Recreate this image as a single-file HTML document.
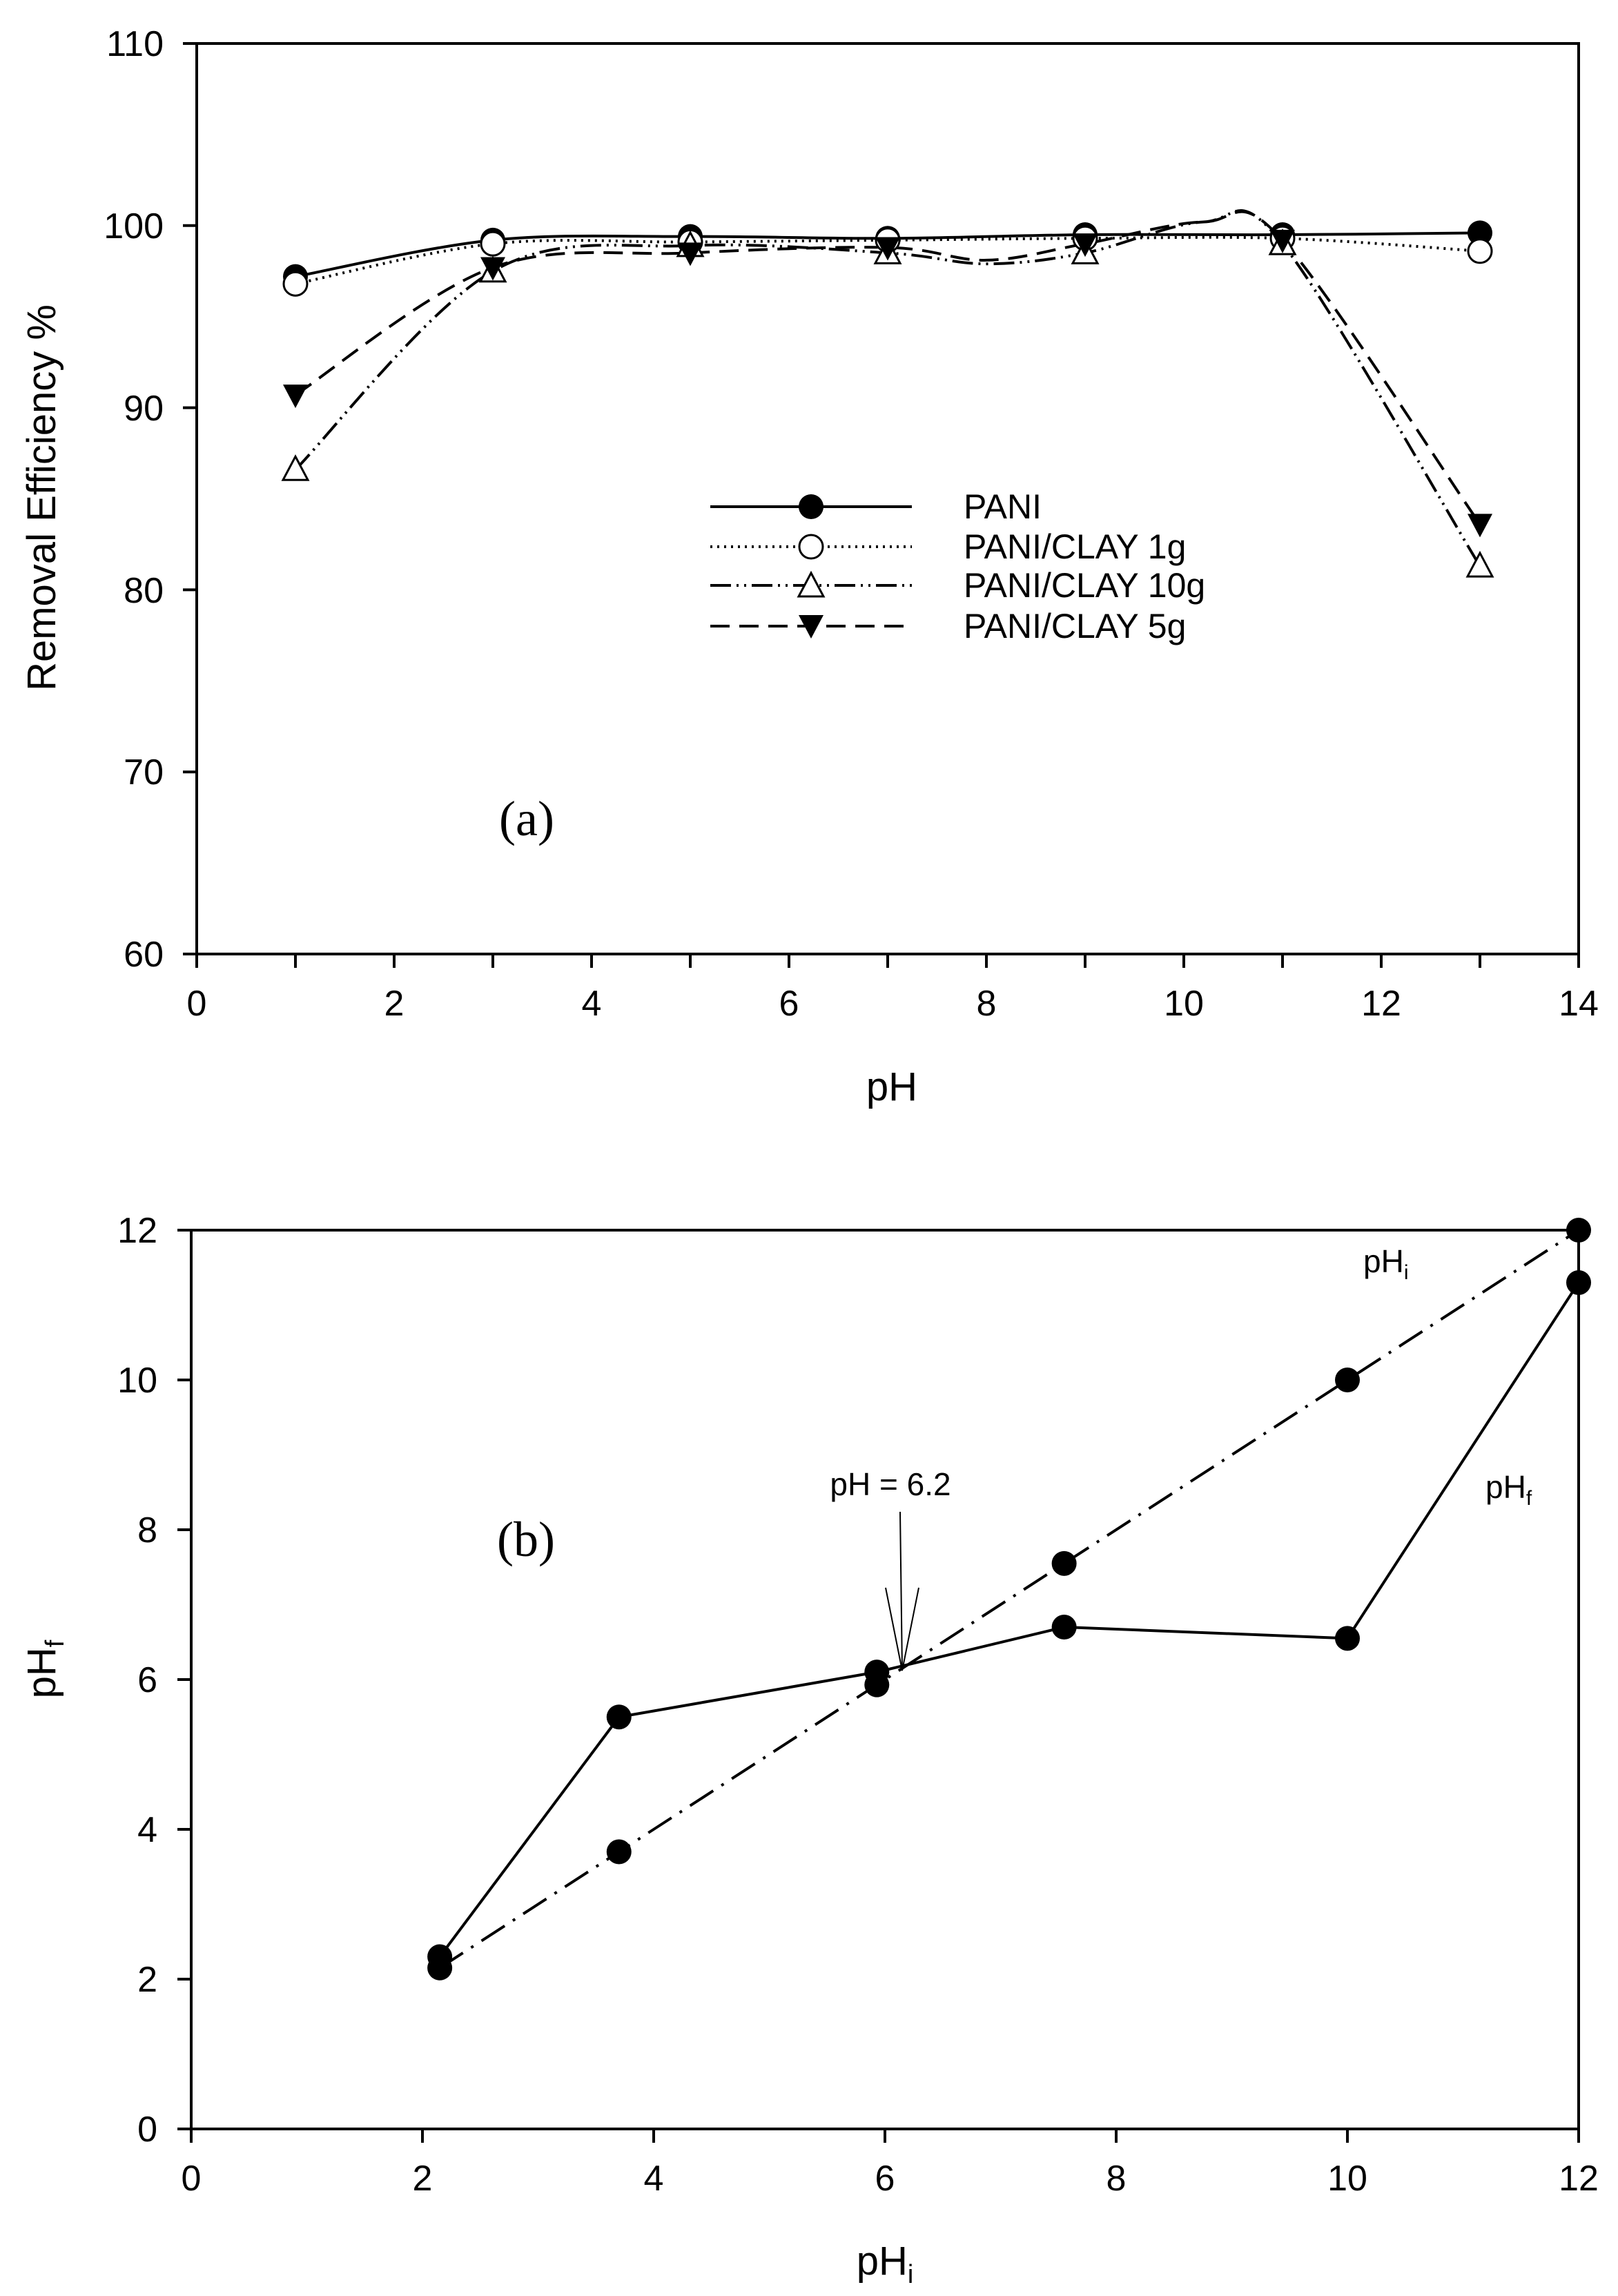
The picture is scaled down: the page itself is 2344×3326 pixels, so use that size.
<!DOCTYPE html>
<html><head><meta charset="utf-8"><style>
html,body{margin:0;padding:0;background:#fff}
svg{display:block}
text{font-family:"Liberation Sans",Arial,sans-serif;fill:#000}
.tk{font-size:52px}
</style></head><body>
<svg id="s" width="2344" height="3326" viewBox="0 0 2344 3326" xmlns="http://www.w3.org/2000/svg">
<rect width="2344" height="3326" fill="#fff"/>
<g stroke="#000" stroke-width="4" fill="none">
<rect x="285" y="63" width="2002" height="1319"/>
<path d="M265 63H285M265 326.8H285M265 590.6H285M265 854.4H285M265 1118.2H285M265 1382H285"/>
<path d="M285 1382V1402M428 1382V1402M571 1382V1402M714 1382V1402M857 1382V1402M1000 1382V1402M1143 1382V1402M1286 1382V1402M1429 1382V1402M1572 1382V1402M1715 1382V1402M1858 1382V1402M2001 1382V1402M2144 1382V1402M2287 1382V1402"/>
</g>
<g class="tk" text-anchor="end">
<text x="237" y="81">110</text><text x="237" y="345">100</text><text x="237" y="609">90</text>
<text x="237" y="873">80</text><text x="237" y="1136">70</text><text x="237" y="1400">60</text>
</g>
<g class="tk" text-anchor="middle">
<text x="285" y="1471">0</text><text x="571" y="1471">2</text><text x="857" y="1471">4</text><text x="1143" y="1471">6</text>
<text x="1429" y="1471">8</text><text x="1715" y="1471">10</text><text x="2001" y="1471">12</text><text x="2287" y="1471">14</text>
</g>
<text x="1292" y="1594" font-size="58" text-anchor="middle">pH</text>
<text transform="translate(80,721) rotate(-90)" font-size="58" text-anchor="middle">Removal Efficiency %</text>
<text x="763" y="1210" font-size="72" text-anchor="middle" style="font-family:'Liberation Serif',serif">(a)</text>
<g id="top"></g>
<g stroke="#000" stroke-width="4" fill="none">
<path d="M1029 734H1321"/>
<path d="M1029 792H1321" stroke-dasharray="3,7"/>
<path d="M1029 848H1321" stroke-dasharray="30,8,3,8,3,8"/>
<path d="M1029 907H1321" stroke-dasharray="28,14"/>
</g>
<circle cx="1175" cy="734" r="18" fill="#000"/>
<circle cx="1175" cy="792" r="17" fill="#fff" stroke="#000" stroke-width="3"/>
<path d="M1175 830L1193 864H1157Z" fill="#fff" stroke="#000" stroke-width="3"/>
<path d="M1175 925L1193 891H1157Z" fill="#000"/>
<g font-size="50">
<text x="1396" y="751">PANI</text>
<text x="1396" y="809">PANI/CLAY 1g</text>
<text x="1396" y="865">PANI/CLAY 10g</text>
<text x="1396" y="924">PANI/CLAY 5g</text>
</g>

<g stroke="#000" stroke-width="4" fill="none">
<rect x="277" y="1782" width="2010" height="1302"/>
<path d="M257 1782H277M257 1999H277M257 2216H277M257 2433H277M257 2650H277M257 2867H277M257 3084H277"/>
<path d="M277 3084V3104M612 3084V3104M947 3084V3104M1282 3084V3104M1617 3084V3104M1952 3084V3104M2287 3084V3104"/>
</g>
<g class="tk" text-anchor="end">
<text x="228" y="1800">12</text><text x="228" y="2017">10</text><text x="228" y="2234">8</text>
<text x="228" y="2451">6</text><text x="228" y="2668">4</text><text x="228" y="2885">2</text><text x="228" y="3102">0</text>
</g>
<g class="tk" text-anchor="middle">
<text x="277" y="3173">0</text><text x="612" y="3173">2</text><text x="947" y="3173">4</text><text x="1282" y="3173">6</text>
<text x="1617" y="3173">8</text><text x="1952" y="3173">10</text><text x="2287" y="3173">12</text>
</g>
<text x="1282" y="3295" font-size="58" text-anchor="middle">pH<tspan font-size="38" dy="12">i</tspan></text>
<text transform="translate(80,2418) rotate(-90)" font-size="58" text-anchor="middle">pH<tspan font-size="38" dy="12">f</tspan></text>
<text x="762" y="2254" font-size="72" text-anchor="middle" style="font-family:'Liberation Serif',serif">(b)</text>
<text x="1290" y="2166" font-size="46" text-anchor="middle">pH = 6.2</text>
<text x="1975" y="1843" font-size="46">pH<tspan font-size="30" dy="10">i</tspan></text>
<text x="2152" y="2170" font-size="46">pH<tspan font-size="30" dy="10">f</tspan></text>
<g stroke="#000" stroke-width="2" fill="none">
<path d="M1304 2190L1307 2420M1283 2300L1307 2420L1331 2300"/>
</g>
<g id="bot"></g>
</svg>
<script>
(function(){
var NS="http://www.w3.org/2000/svg";
function el(p,t,a){var e=document.createElementNS(NS,t);for(var k in a)e.setAttribute(k,a[k]);p.appendChild(e);return e;}
function spline(pts){var d="M"+pts[0][0]+" "+pts[0][1];
 for(var i=0;i<pts.length-1;i++){var p0=pts[i-1]||pts[i],p1=pts[i],p2=pts[i+1],p3=pts[i+2]||p2;
  var c1=[p1[0]+(p2[0]-p0[0])/6,p1[1]+(p2[1]-p0[1])/6],c2=[p2[0]-(p3[0]-p1[0])/6,p2[1]-(p3[1]-p1[1])/6];
  d+=" C"+c1.join(" ")+" "+c2.join(" ")+" "+p2.join(" ");}return d;}
var top=document.getElementById("top");
function X(v){return 285+143*v;} function Y(v){return 1382-(v-60)*26.38;}
var xs=[1,3,5,7,9,11,13];
var S=[
 {d:[97.2,99.2,99.4,99.3,99.5,99.5,99.6],da:"",m:"fc"},
 {d:[96.8,99.0,99.1,99.2,99.3,99.3,98.6],da:"3,7",m:"oc"},
 {d:[86.6,97.5,98.9,98.5,98.5,99.0,81.3],da:"30,8,3,8,3,8",m:"ot",ex:[[8,97.9],[10.2,100.2]]},
 {d:[90.7,97.7,98.5,98.8,99.0,99.2,83.6],da:"28,14",m:"ft",ex:[[8,98.1],[10.2,100.2]]}];
S.forEach(function(s){var p=xs.map(function(x,i){return [x,s.d[i]];});
 if(s.ex)p=p.concat(s.ex).sort(function(a,b){return a[0]-b[0];});
 var pts=p.map(function(q){return [X(q[0]),Y(q[1])];});
 var a={d:spline(pts),fill:"none",stroke:"#000","stroke-width":4};if(s.da)a["stroke-dasharray"]=s.da;el(top,"path",a);});
S.forEach(function(s){xs.forEach(function(x,i){var cx=X(x),cy=Y(s.d[i]);
 if(s.m=="fc")el(top,"circle",{cx:cx,cy:cy,r:18,fill:"#000"});
 else if(s.m=="oc")el(top,"circle",{cx:cx,cy:cy,r:17,fill:"#fff",stroke:"#000","stroke-width":3});
 else if(s.m=="ot")el(top,"path",{d:"M"+cx+" "+(cy-19)+"L"+(cx+18)+" "+(cy+15)+"H"+(cx-18)+"Z",fill:"#fff",stroke:"#000","stroke-width":3});
 else el(top,"path",{d:"M"+cx+" "+(cy+19)+"L"+(cx+18)+" "+(cy-15)+"H"+(cx-18)+"Z",fill:"#000"});});});
var bot=document.getElementById("bot");
function BX(v){return 277+167.5*v;} function BY(v){return 3084-108.5*v;}
var f=[[2.15,2.3],[3.7,5.5],[5.93,6.1],[7.55,6.7],[10,6.55],[12,11.3]];
var i2=[[2.15,2.15],[3.7,3.7],[5.93,5.93],[7.55,7.55],[10,10],[12,12]];
function poly(p){return "M"+p.map(function(q){return BX(q[0])+" "+BY(q[1]);}).join(" L");}
el(bot,"path",{d:poly(f),fill:"none",stroke:"#000","stroke-width":4});
el(bot,"path",{d:poly(i2),fill:"none",stroke:"#000","stroke-width":4,"stroke-dasharray":"40,14,4,14"});
f.concat(i2).forEach(function(q){el(bot,"circle",{cx:BX(q[0]),cy:BY(q[1]),r:18,fill:"#000"});});
})();
</script>
</body></html>
